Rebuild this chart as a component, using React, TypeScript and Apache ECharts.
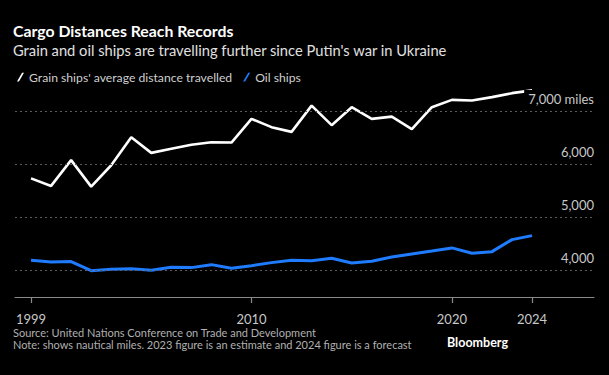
import React, { useEffect, useRef } from "react";
import * as echarts from "echarts";

const years: number[] = [
  1999, 2000, 2001, 2002, 2003, 2004, 2005, 2006, 2007, 2008, 2009, 2010, 2011,
  2012, 2013, 2014, 2015, 2016, 2017, 2018, 2019, 2020, 2021, 2022, 2023, 2024,
];
const grainShips: number[] = [
  5733, 5591, 6077, 5578, 5980, 6508, 6213, 6290, 6365, 6414, 6407, 6853, 6697,
  6608, 7103, 6734, 7073, 6853, 6896, 6659, 7073, 7211, 7198, 7262, 7337, 7390,
];
const oilShips: number[] = [
  4192, 4160, 4166, 3996, 4023, 4034, 4004, 4060, 4053, 4109, 4041, 4090, 4147,
  4192, 4184, 4230, 4141, 4173, 4254, 4311, 4367, 4424, 4324, 4354, 4580, 4655,
];
const yTicks: number[] = [4000, 5000, 6000, 7000];
const xTickYears: number[] = [1999, 2010, 2020, 2024];

const FONT = "Lato";

export default function App() {
  const ref = useRef<HTMLDivElement>(null);
  useEffect(() => {
    document.body.style.margin = "0";
    document.body.style.background = "#000";
    if (!ref.current) return;
    const chart = echarts.init(ref.current, null, { renderer: "svg" });
    const grain = years.map((y, i) => [y, grainShips[i]]);
    const oil = years.map((y, i) => [y, oilShips[i]]);
    chart.setOption({
      animation: false,
      backgroundColor: "#000",
      textStyle: { fontFamily: FONT },
      grid: { left: 15, right: 15, top: 84.5, bottom: 78 },
      legend: {
        left: 12,
        top: 66,
        itemWidth: 7,
        itemHeight: 10,
        itemGap: 11,
        selectedMode: false,
        data: [
          {
            name: "Grain ships' average distance travelled",
            icon: "path://M0,10L2.2,10L8,0L5.8,0Z",
            itemStyle: { color: "#fff" },
          },
          {
            name: "Oil ships",
            icon: "path://M0,10L2.2,10L8,0L5.8,0Z",
            itemStyle: { color: "#1f7cff" },
          },
        ],
        textStyle: { color: "#cfcfcf", fontSize: 12.2, fontFamily: FONT },
      },
      xAxis: {
        type: "value",
        min: 1998.2,
        max: 2027.09,
        splitLine: { show: false },
        axisLine: { show: true, onZero: false, lineStyle: { color: "#8a8a8a", width: 1.2 } },
        axisTick: {
          show: true,
          length: 6,
          customValues: xTickYears,
          lineStyle: { color: "#8a8a8a", width: 1.2 },
        },
        axisLabel: {
          customValues: xTickYears,
          color: "#c8c8c8",
          fontSize: 13,
          margin: 15,
          fontFamily: FONT,
          formatter: (v: number) => String(v),
        },
      },
      yAxis: {
        type: "value",
        min: 3500,
        max: 7500,
        splitLine: { show: false },
        axisLine: { show: false },
        axisTick: { show: false },
        axisLabel: { show: false },
      },
      series: [
        {
          name: "gridlines",
          type: "line",
          data: [],
          z: 1,
          silent: true,
          markLine: {
            silent: true,
            symbol: "none",
            label: { show: false },
            lineStyle: { type: [2, 3], color: "#5a5a5a", width: 1 },
            data: yTicks.map((v) => ({ yAxis: v })),
          },
        },
        {
          name: "Grain ships' average distance travelled",
          type: "line",
          data: grain,
          z: 3,
          showSymbol: false,
          symbol: "none",
          lineStyle: { color: "#fff", width: 2.6 },
          itemStyle: { color: "#fff" },
        },
        {
          name: "Oil ships",
          type: "line",
          data: oil,
          z: 3,
          showSymbol: false,
          symbol: "none",
          lineStyle: { color: "#1f7cff", width: 3 },
          itemStyle: { color: "#1f7cff" },
        },
        {
          name: "ticklabels",
          type: "line",
          data: [],
          z: 10,
          silent: true,
          markLine: {
            silent: true,
            symbol: "none",
            lineStyle: { width: 0, color: "rgba(0,0,0,0)" },
            label: {
              show: true,
              position: "insideEndTop",
              distance: [0, 5],
              color: "#c8c8c8",
              fontSize: 13,
              fontFamily: FONT,
              backgroundColor: "#000",
              padding: [2, 0, 1, 4],
              formatter: (p: any) => {
                const v = p.value as number;
                const s = v.toLocaleString("en-US");
                return v === 7000 ? s + " miles" : s;
              },
            },
            data: yTicks.map((v) => ({ yAxis: v })),
          },
        },
      ],
      graphic: [
        {
          type: "text",
          left: 13,
          top: 22,
          style: {
            text: "Cargo Distances Reach Records",
            fill: "#fff",
            font: `bold 15.8px ${FONT}`,
          },
        },
        {
          type: "text",
          left: 13,
          top: 42,
          style: {
            text: "Grain and oil ships are travelling further since Putin's war in Ukraine",
            fill: "#e0e0e0",
            font: `14.7px ${FONT}`,
          },
        },
        {
          type: "text",
          left: 13,
          top: 327,
          style: {
            text:
              "Source: United Nations Conference on Trade and Development\n" +
              "Note: shows nautical miles. 2023 figure is an estimate and 2024 figure is a forecast",
            fill: "#b0b0b0",
            font: `11px ${FONT}`,
            lineHeight: 11.5,
          },
        },
        {
          type: "text",
          right: 101,
          top: 336,
          style: {
            text: "Bloomberg",
            fill: "#fff",
            font: `bold 12.5px ${FONT}`,
          },
        },
      ],
    });
    return () => chart.dispose();
  }, []);
  return (
    <div
      ref={ref}
      style={{ position: "fixed", left: 0, top: 0, width: 609, height: 375, background: "#000" }}
    />
  );
}
